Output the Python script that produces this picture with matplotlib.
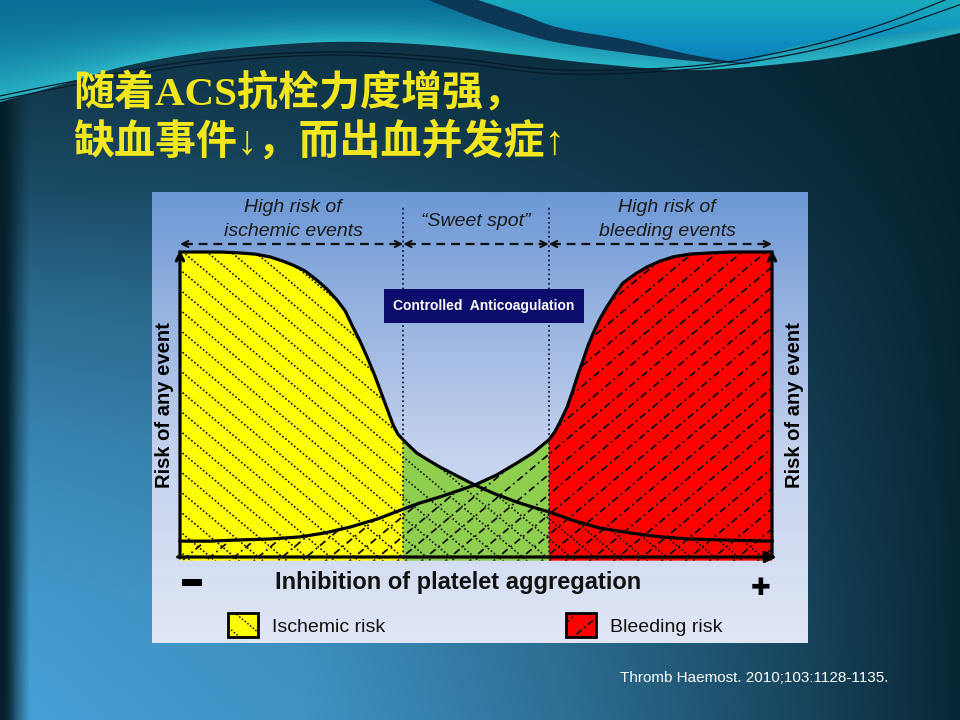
import numpy as np
import matplotlib
matplotlib.use('Agg')
import matplotlib.pyplot as plt
from matplotlib.patches import Polygon, Rectangle
from matplotlib.collections import LineCollection
from matplotlib.colors import to_rgb

W, H = 960, 720

# ---- values: inhibition (%) vs risk (%) ----
isch_x = [0, 3.4, 6.8, 10.1, 12.7, 15.2, 17.4, 19.1, 21.1, 23.1, 24.8, 26.5, 27.9,
          29.2, 30.4, 31.6, 32.8, 33.8, 35.0, 36.0, 36.8, 37.7, 38.9, 40.0, 41.9,
          43.9, 46.8, 49.8, 53.2, 56.9, 59.5, 62.3, 66.7, 70.9, 76.0, 81.1, 86.1,
          91.2, 100]
isch_y = [100, 100, 100, 99.7, 99.3, 98.4, 97.0, 95.7, 93.8, 90.8, 87.9, 84.3, 80.7,
          75.4, 70.8, 65.6, 60.0, 54.8, 48.5, 43.3, 40.3, 38.4, 36.1, 34.1, 31.8,
          29.5, 26.6, 23.6, 20.7, 18.0, 16.4, 14.8, 11.8, 9.5, 7.9, 6.6, 5.9,
          5.6, 5.2]
bleed_x = [0, 5.1, 10.1, 15.2, 20.3, 24.5, 28.7, 33.4, 37.7, 40.5, 43.9, 46.8, 49.8,
           53.5, 56.9, 59.6, 62.3, 63.3, 64.2, 65.4, 66.4, 67.2, 68.1, 68.9, 69.8,
           70.9, 72.1, 73.5, 74.8, 76.9, 78.9, 81.1, 83.3, 86.1, 89.5, 92.9, 100]
bleed_y = [5.2, 5.2, 5.6, 5.9, 6.6, 7.9, 9.8, 12.5, 15.7, 17.7, 19.7, 21.6, 23.6,
           26.9, 30.8, 34.1, 38.4, 41.0, 44.3, 49.2, 54.8, 59.7, 64.6, 69.2, 73.4,
           78.0, 82.0, 86.2, 89.8, 92.8, 95.1, 97.0, 98.4, 99.3, 99.7, 100, 100]
zone_edges = [0, 37.7, 62.3, 100]
cross_x = 49.8

title_1 = '随着ACS抗栓力度增强，'
title_2 = '缺血事件↓，而出血并发症↑'
zone_text = [['High risk of', 'ischemic events'], ['“Sweet spot”'],
             ['High risk of', 'bleeding events']]
box_text = 'Controlled  Anticoagulation'
y_label = 'Risk of any event'
x_label = 'Inhibition of platelet aggregation'
legend_text = ['Ischemic risk', 'Bleeding risk']
source = 'Thromb Haemost. 2010;103:1128-1135.'

YELLOW, GREEN, RED = '#ffff00', '#8fcf4f', '#ff0000'
CHART_FONT = ['Liberation Sans', 'DejaVu Sans']

# chart geometry: x=0 at px 180, x=100 at px 772; y=0 at px 557, y=100 at px 252
SX, SY = 5.92, 3.05


def dx(px):
    return (px - 180) / SX


def dy(py):
    return (557 - py) / SY


def catmull(pts, n=16):
    # smooth path through a few control points (only for the slide decoration)
    p = np.asarray(pts, float)
    p = np.vstack([p[0], p, p[-1]])
    out = []
    t = np.linspace(0, 1, n, endpoint=False)[:, None]
    for i in range(1, len(p) - 2):
        p0, p1, p2, p3 = p[i - 1], p[i], p[i + 1], p[i + 2]
        out.append(0.5 * (2 * p1 + (-p0 + p2) * t + (2 * p0 - 5 * p1 + 4 * p2 - p3) * t ** 2
                          + (-p0 + 3 * p1 - 3 * p2 + p3) * t ** 3))
    out.append(p[-2][None])
    return np.vstack(out)


def mix(c0, c1, t):
    c0, c1 = np.array(to_rgb(c0)), np.array(to_rgb(c1))
    return c0 + (c1 - c0) * np.clip(t, 0, 1)[..., None]


fig = plt.figure(figsize=(9.6, 7.2), dpi=100)

# ---------------- slide background ----------------
bg = fig.add_axes([0, 0, 1, 1])
bg.set_xlim(0, W)
bg.set_ylim(H, 0)
bg.axis('off')

yy, xx = np.mgrid[0:H:4, 0:W:4].astype(float)
gx = np.interp(xx, [0, 6, 15, 28, 300, 560, 760, 880, 960],
               [0.0, 0.05, 0.5, 1.0, 0.9, 0.62, 0.35, 0.17, 0.05])
gy = np.interp(yy, [0, 100, 180, 300, 450, 600, 720],
               [0.15, 0.22, 0.33, 0.58, 0.8, 0.95, 1.0])
body = mix('#05202c', '#46a0d6', gx * gy)
bg.imshow(body, extent=(0, W, H, 0), aspect='auto', interpolation='bilinear', zorder=0)

edge = catmull([(0, 102), (60, 85), (130, 65), (220, 50), (330, 42), (430, 45),
                (520, 55), (600, 64), (693, 70), (800, 62), (880, 50), (960, 33)])
top_poly = Polygon(np.vstack([[(0, 0), (W, 0)], edge[::-1]]), closed=True,
                   transform=bg.transData)
edge_y = np.interp(xx, edge[:, 0], edge[:, 1])
top_img = mix('#0a6f98', '#2cb8c8', (yy / edge_y) ** 1.6)
im = bg.imshow(top_img, extent=(0, W, H, 0), aspect='auto', interpolation='bilinear', zorder=1)
im.set_clip_path(top_poly)

sw_up = catmull([(478, 0), (520, 14), (560, 28), (627, 40), (693, 55), (750, 64)])
sw_lo = catmull([(428, 0), (480, 20), (520, 33), (560, 43), (627, 53), (693, 61), (750, 64)])
right_poly = Polygon(np.vstack([[(478, 0), (W, 0), (W, 26)],
                                catmull([(960, 26), (880, 36), (800, 45), (750, 62)])[1:],
                                sw_up[::-1]]), closed=True, transform=bg.transData)
right_img = mix('#19aabd', '#0a84bf', yy / 55)
im2 = bg.imshow(right_img, extent=(0, W, H, 0), aspect='auto', interpolation='bilinear', zorder=2)
im2.set_clip_path(right_poly)
bg.add_patch(Polygon(np.vstack([sw_up, sw_lo[::-1]]), closed=True, facecolor='#0c3856',
                     edgecolor='none', zorder=3))

for pts in ([(0, 96), (80, 80), (200, 60), (330, 52), (450, 58), (560, 70), (693, 66),
             (800, 48), (880, 25), (945, 0)],
            [(0, 100), (80, 84), (200, 64), (330, 55), (450, 62), (560, 74), (693, 69),
             (800, 53), (880, 32), (962, 4)]):
    c = catmull(pts)
    bg.plot(c[:, 0], c[:, 1], color='#061a28', lw=0.9, zorder=4)

title_font = ['Liberation Serif', 'Noto Sans CJK SC']
bg.text(73, 93, title_1, fontsize=29.5, fontweight='bold', color='#f2e61c',
        family=title_font, ha='left', va='center', zorder=5)
bg.text(73, 142, title_2, fontsize=29.5, fontweight='bold', color='#f2e61c',
        family=title_font, ha='left', va='center', zorder=5)
bg.text(620, 678, source, fontsize=11, color='white', family=CHART_FONT,
        ha='left', va='center', zorder=5)

# ---------------- chart panel ----------------
ax = fig.add_axes([152 / W, (H - 643) / H, 656 / W, 451 / H])
xlim = (dx(152), dx(808))
ylim = (dy(643), dy(192))
ax.axis('off')

panel_y = np.linspace(192, 643, 200)
panel = mix('#6d98d6', '#9db7e2', np.interp(panel_y, [192, 330], [0, 1]))
panel = np.where((panel_y > 330)[:, None],
                 mix('#9db7e2', '#c4d2ee', np.interp(panel_y, [330, 450], [0, 1])), panel)
panel = np.where((panel_y > 450)[:, None],
                 mix('#c4d2ee', '#e0e6f5', np.interp(panel_y, [450, 643], [0, 1])), panel)
ax.imshow(panel[:, None, :], extent=(xlim[0], xlim[1], ylim[0], ylim[1]),
          aspect='auto', interpolation='bilinear', zorder=0)
ax.set_xlim(*xlim)
ax.set_ylim(*ylim)

ix, iy = np.array(isch_x), np.array(isch_y)
bx, by = np.array(bleed_x), np.array(bleed_y)
base = -1.2

m = ix <= zone_edges[1]
ax.add_patch(Polygon(np.vstack([[(0, base)], np.column_stack([ix[m], iy[m]]),
                                [(zone_edges[1], base)]]), closed=True,
                     facecolor=YELLOW, edgecolor='none', zorder=1))
mi = (ix >= zone_edges[1]) & (ix <= cross_x)
mb = (bx > cross_x) & (bx <= zone_edges[2])
ax.add_patch(Polygon(np.vstack([[(zone_edges[1], base)], np.column_stack([ix[mi], iy[mi]]),
                                np.column_stack([bx[mb], by[mb]]), [(zone_edges[2], base)]]),
                     closed=True, facecolor=GREEN, edgecolor='none', zorder=1))
m = bx >= zone_edges[2]
ax.add_patch(Polygon(np.vstack([[(zone_edges[2], base)], np.column_stack([bx[m], by[m]]),
                                [(100, base)]]), closed=True,
                     facecolor=RED, edgecolor='none', zorder=1))

slope = np.tan(np.radians(40)) * SX / SY
step = 24 / SX
DOT = (0, (1, 1.3))
DASHDOT = (0, (4, 2, 1, 2))


def hatch(clip, sgn, ls, lw, y0=0.0, z=2):
    xs = np.array([-10.0, 115.0])
    segs = [np.column_stack([xs, y0 + sgn * slope * (xs - c)]) for c in np.arange(-80, 180, step)]
    lc = LineCollection(segs, colors='#101010', linestyles=[ls], linewidths=lw, zorder=z)
    ax.add_collection(lc)
    lc.set_clip_path(clip)


isch_clip = Polygon(np.vstack([[(0, base)], np.column_stack([ix, iy]), [(100, base)]]),
                    closed=True, transform=ax.transData)
bleed_clip = Polygon(np.vstack([[(0, base)], np.column_stack([bx, by]), [(100, base)]]),
                     closed=True, transform=ax.transData)
hatch(isch_clip, -1, DOT, 1.2)
hatch(bleed_clip, 1, DASHDOT, 1.3)

ax.plot(ix, iy, color='black', lw=2.3, solid_joinstyle='round', zorder=3)
ax.plot(bx, by, color='black', lw=2.3, solid_joinstyle='round', zorder=3)

# axes with arrows
ax.annotate('', xy=(100.8, 0), xytext=(-0.4, 0),
            arrowprops=dict(arrowstyle='-|>', lw=2.3, color='black', mutation_scale=16,
                            shrinkA=0, shrinkB=0), zorder=4)
for xa in (0, 100):
    ax.annotate('', xy=(xa, 100.6), xytext=(xa, -0.3),
                arrowprops=dict(arrowstyle='->', lw=2.3, color='black', mutation_scale=13,
                                shrinkA=0, shrinkB=0), zorder=4)

# zone separators and dashed range arrows
for xe in zone_edges[1:3]:
    ax.plot([xe, xe], [0, dy(206)], color='#1c1c3c', lw=1.3, ls=(0, (1, 1.6)), zorder=4)
ya = dy(244)
for x0, x1 in zip(zone_edges[:-1], zone_edges[1:]):
    ax.plot([x0 + 0.6, x1 - 0.6], [ya, ya], color='#111111', lw=1.6, ls=(0, (4, 2.6)), zorder=4)
    for tip, tail in ((x0, x0 + 1.6), (x1, x1 - 1.6)):
        ax.annotate('', xy=(tip, ya), xytext=(tail, ya),
                    arrowprops=dict(arrowstyle='->', lw=1.5, color='#111111',
                                    mutation_scale=11, shrinkA=0, shrinkB=0), zorder=4)

label_px = [(293, [207, 231]), (476, [221]), (667, [207, 231])]
for (cx, rows), lines in zip(label_px, zone_text):
    for yp, s in zip(rows, lines):
        ax.text(dx(cx), dy(yp), s, fontsize=14, style='italic',
                color='#1a1a1a', family=CHART_FONT, ha='center', va='center', zorder=5)

ax.add_patch(Rectangle((dx(384), dy(323)), 200 / SX, 34 / SY,
                       facecolor='#0c0c6c', edgecolor='none', zorder=5))
ax.text(dx(484), dy(306), box_text, fontsize=10, fontweight='bold', color='white',
        family=CHART_FONT, ha='center', va='center', zorder=6)

for xp in (165, 795):
    ax.text(dx(xp), dy(405), y_label, rotation=90, fontsize=14.5, fontweight='bold',
            color='black', family=CHART_FONT, ha='center', va='center', zorder=5)

ax.text(dx(458), dy(583), x_label, fontsize=17, fontweight='bold', color='#111111',
        family=CHART_FONT, ha='center', va='center', zorder=5)
ax.add_patch(Rectangle((dx(182), dy(586)), 20 / SX, 7 / SY,
                       facecolor='black', edgecolor='none', zorder=5))
ax.text(dx(761), dy(588), '✚', fontsize=17, color='black', family='DejaVu Sans',
        ha='center', va='center', zorder=5)

# legend
leg = [(228, YELLOW, -1, DOT, 1.1), (566, RED, 1, DASHDOT, 1.2)]
for (x0, col, sgn, ls, lw), s in zip(leg, legend_text):
    ax.add_patch(Rectangle((dx(x0), dy(637)), 30 / SX, 24 / SY, facecolor=col,
                           edgecolor='black', lw=2, zorder=5))
    clip = Rectangle((dx(x0), dy(637)), 30 / SX, 24 / SY, transform=ax.transData)
    hatch(clip, sgn, ls, lw, y0=dy(625) - sgn * slope * dx(x0 + 15), z=6)
    ax.text(dx(x0 + 44), dy(628), s, fontsize=14, color='#111111',
            family=CHART_FONT, ha='left', va='center', zorder=5)

fig.savefig('out.png', dpi=100)
